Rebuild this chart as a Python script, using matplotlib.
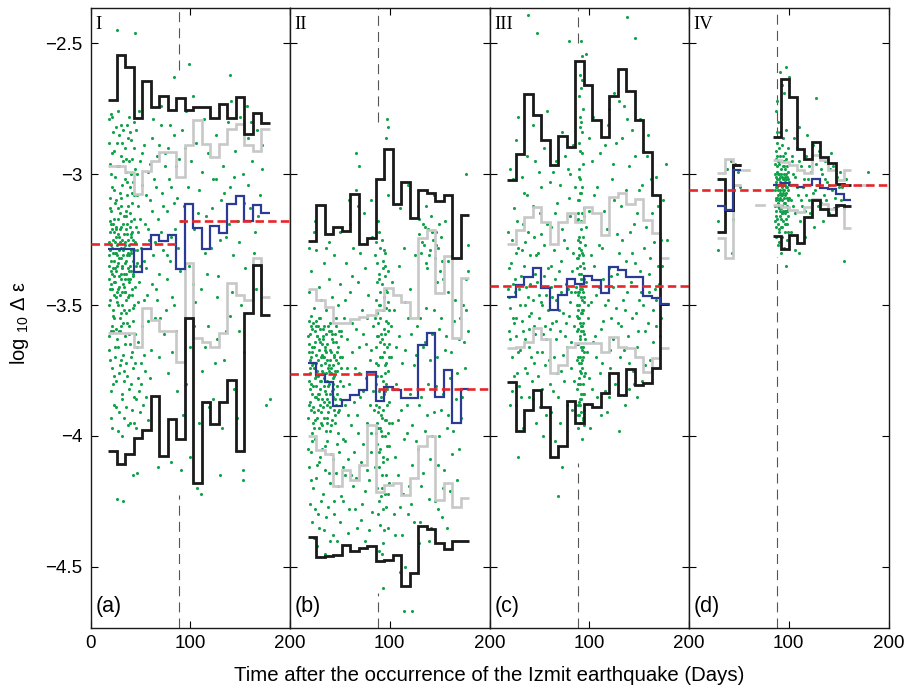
import matplotlib
matplotlib.use("Agg")
import matplotlib.pyplot as plt

plt.rcParams['font.family'] = ['Liberation Sans', 'DejaVu Sans']
plt.rcParams['mathtext.fontset'] = 'custom'
plt.rcParams['mathtext.rm'] = 'Liberation Sans'
plt.rcParams['mathtext.it'] = 'Liberation Sans:italic'

# 8.5-day bins shared by regions I-III (days after the Izmit mainshock)
EDGES = [18, 26.5, 35, 43.5, 52, 60.5, 69, 77.5, 86, 94.5, 103, 111.5,
         120, 128.5, 137, 145.5, 154, 162.5, 171, 179.5]
EDGES_D_EARLY = [28.5, 36.5, 44, 52]
EDGES_D = [84, 92, 100, 108, 115.5, 123.5, 131.5, 139.5, 147, 155, 162.5]
DASH_DAY = 88.4

# region I
black_hi_a = [-2.715, -2.546, -2.59, -2.787, -2.645, -2.743, -2.701, -2.756, -2.709, -2.756,
              -2.743, -2.743, -2.787, -2.73, -2.787, -2.705, -2.848, -2.766, -2.803]
black_lo_a = [-4.056, -4.108, -4.069, -4.009, -3.977, -3.846, -4.076, -3.934, -4.011, -3.551,
              -4.181, -3.871, -3.955, -3.871, -3.786, -4.056, -3.532, -3.345, -3.538]
gray_hi_a = [-2.969, -2.969, -2.99, -3.074, -2.987, -2.95, -2.915, -2.915, -3.01, -2.889,
             -2.794, -2.883, -2.936, -2.883, -2.826, -2.807, -2.889, -2.911, -2.826]
gray_lo_a = [-3.606, -3.606, -3.606, -3.659, -3.513, -3.557, -3.60, -3.60, -3.716, -3.34,
             -3.627, -3.64, -3.66, -3.608, -3.416, -3.462, -3.48, -3.32, -3.468]
blue_a = [-3.287, -3.287, -3.287, -3.373, -3.287, -3.233, -3.255, -3.233, -3.364, -3.115,
          -3.207, -3.284, -3.198, -3.226, -3.115, -3.084, -3.178, -3.118, -3.15]
red_a = [(0, DASH_DAY, -3.267), (DASH_DAY, 200, -3.18)]

# region II
black_hi_b = [-3.255, -3.118, -3.23, -3.201, -3.216, -3.074, -3.268, -3.245, -3.02, -2.902,
              -3.115, -3.029, -3.169, -3.061, -3.071, -3.102, -3.078, -3.322, -3.156]
black_lo_b = [-4.387, -4.461, -4.458, -4.454, -4.416, -4.441, -4.428, -4.42, -4.476, -4.473,
              -4.454, -4.575, -4.522, -4.344, -4.357, -4.41, -4.431, -4.40, -4.40]
gray_hi_b = [-3.439, -3.481, -3.506, -3.57, -3.57, -3.555, -3.545, -3.538, -3.519, -3.434,
             -3.462, -3.487, -3.551, -3.245, -3.214, -3.455, -3.313, -3.627, -3.398]
gray_lo_b = [-4.0, -4.053, -4.069, -4.193, -4.13, -4.168, -4.111, -3.958, -4.215, -4.187,
             -4.181, -4.225, -4.162, -4.04, -4.0, -4.244, -4.181, -4.27, -4.238]
blue_b = [-3.72, -3.767, -3.793, -3.885, -3.863, -3.844, -3.824, -3.754, -3.866, -3.812,
          -3.824, -3.856, -3.856, -3.653, -3.606, -3.85, -3.748, -3.952, -3.822]
red_b = [(0, DASH_DAY, -3.763), (DASH_DAY, 200, -3.821)]

# region III
black_hi_c = [-3.023, -2.921, -2.695, -2.775, -2.87, -2.966, -2.855, -2.896, -2.569, -2.66,
              -2.791, -2.857, -2.702, -2.597, -2.682, -2.791, -2.915, -3.08, -3.496]
black_lo_c = [-3.795, -3.98, -3.901, -3.824, -3.89, -4.079, -4.038, -3.866, -3.952, -3.878,
              -3.89, -3.837, -3.761, -3.844, -3.746, -3.806, -3.797, -3.742, -3.496]
gray_hi_c = [-3.267, -3.214, -3.163, -3.127, -3.182, -3.267, -3.182, -3.15, -3.182, -3.127,
             -3.15, -3.233, -3.087, -3.071, -3.112, -3.093, -3.176, -3.226, -3.322]
gray_lo_c = [-3.665, -3.66, -3.64, -3.589, -3.63, -3.761, -3.729, -3.66, -3.645, -3.645,
             -3.645, -3.68, -3.621, -3.66, -3.665, -3.70, -3.754, -3.703, -3.665]
blue_c = [-3.468, -3.424, -3.392, -3.358, -3.433, -3.517, -3.462, -3.402, -3.418, -3.389,
          -3.405, -3.455, -3.356, -3.366, -3.392, -3.392, -3.466, -3.472, -3.496]
red_c = [(0, 200, -3.427)]

# region IV: a short early burst and the main sequence after day 84
black_hi_d0 = [-3.019, -3.135, -2.966]
black_lo_d0 = [-3.22, -3.135, -2.966]
gray_hi_d0 = [-2.997, -2.94, -3.04]
gray_lo_d0 = [-3.242, -3.322, -3.04]
blue_d0 = [-3.121, -3.135, -2.985]
black_hi_d = [-2.857, -2.635, -2.705, -2.902, -2.94, -2.877, -2.934, -2.959, -3.036, -3.042]
black_lo_d = [-3.237, -3.284, -3.233, -3.263, -3.163, -3.097, -3.131, -3.156, -3.118, -3.121]
gray_hi_d = [-2.944, -2.955, -2.966, -2.985, -2.997, -2.925, -2.944, -2.985, -3.023, -2.985]
gray_lo_d = [-3.118, -3.125, -3.135, -3.144, -3.125, -3.093, -3.112, -3.131, -3.118, -3.207]
blue_d = [-3.04, -3.033, -3.042, -3.048, -3.042, -3.019, -3.051, -3.056, -3.076, -3.097]
gray_single_d = [(52, 60, -2.982), (67.5, 75, -3.118), (171.5, 178.5, -3.04)]
red_d = [(0, DASH_DAY, -3.061), (DASH_DAY, 200, -3.04)]

# stretches of the day-88 marker hidden behind each event cloud (low, high)
gap_a = (-4.225, -2.603)
gap_b = (-4.60, -2.80)
gap_c = (-4.104, -2.50)
gap_d = (-3.316, -2.857)

# individual events (day, log10 strain change)
pts_a = [
    (18.6, -3.31), (19.4, -3.22), (20.3, -3.37), (21.1, -3.28), (21.9, -3.44), (22.8, -3.19), (23.5, -3.33),
    (24.2, -3.26), (25.0, -3.41), (25.7, -3.30), (26.6, -3.35), (27.3, -3.23), (28.1, -3.39), (28.9, -3.29),
    (29.8, -3.46), (30.4, -3.32), (31.2, -3.25), (32.0, -3.36), (32.9, -3.42), (33.6, -3.28), (34.3, -3.34),
    (35.1, -3.21), (36.0, -3.38), (36.8, -3.31), (37.5, -3.47), (38.4, -3.27), (39.2, -3.35), (40.1, -3.40),
    (41.0, -3.24), (42.3, -3.33), (43.5, -3.29), (44.7, -3.43), (19.9, -3.48), (23.0, -3.52), (26.1, -3.45),
    (29.2, -3.55), (31.7, -3.50), (35.6, -3.53), (38.9, -3.46), (42.8, -3.51), (20.8, -3.14), (24.6, -3.11),
    (27.8, -3.17), (30.9, -3.09), (33.3, -3.16), (37.1, -3.12), (40.6, -3.18), (44.1, -3.08),
    (18.2, -3.35), (19.1, -3.18), (19.9, -3.29), (20.7, -3.42), (21.6, -3.21), (22.5, -3.30), (23.3, -3.46),
    (24.0, -3.17), (24.8, -3.36), (25.4, -3.24), (26.3, -3.49), (27.0, -3.31), (27.9, -3.13), (28.7, -3.43),
    (29.4, -3.26), (30.2, -3.38), (31.0, -3.20), (31.8, -3.45), (32.6, -3.31), (33.2, -3.23), (34.1, -3.40),
    (34.9, -3.27), (35.7, -3.48), (36.5, -3.19), (37.2, -3.36), (38.0, -3.25), (38.8, -3.41), (39.7, -3.15),
    (40.5, -3.30), (41.3, -3.44), (42.0, -3.22), (42.9, -3.38), (43.9, -3.17), (45.2, -3.35), (18.7, -3.40),
    (20.0, -3.09), (22.1, -3.54), (23.9, -3.39), (25.9, -3.21), (28.0, -3.50), (30.0, -3.15), (32.2, -3.57),
    (34.5, -3.45), (36.2, -3.08), (38.6, -3.52), (41.7, -3.11), (43.0, -3.56), (45.9, -3.20), (47.0, -3.34),
    (48.8, -3.41),
    (18.5, -3.26), (19.3, -3.44), (20.1, -3.33), (20.9, -3.19), (21.7, -3.38), (22.6, -3.25), (23.4, -3.41),
    (24.3, -3.30), (25.1, -3.20), (25.9, -3.37), (26.8, -3.27), (27.6, -3.44), (28.4, -3.32), (29.2, -3.21),
    (30.1, -3.40), (30.9, -3.28), (31.7, -3.35), (32.5, -3.19), (33.4, -3.38), (34.2, -3.26), (35.0, -3.45),
    (35.9, -3.33), (36.7, -3.23), (37.6, -3.40), (38.4, -3.31), (39.3, -3.20), (40.2, -3.37), (41.1, -3.29),
    (42.0, -3.46), (42.9, -3.25), (18.9, -3.50), (20.6, -3.27), (22.2, -3.36), (23.8, -3.22), (25.5, -3.47),
    (27.1, -3.34), (28.8, -3.24), (30.5, -3.53), (32.1, -3.29), (33.8, -3.43), (35.5, -3.16), (37.2, -3.30),
    (38.9, -3.37), (40.7, -3.23), (42.5, -3.39), (44.4, -3.26), (19.8, -3.13), (26.0, -3.10), (31.0, -3.12),
    (36.0, -3.14), (41.5, -3.07), (24.0, -3.55), (29.0, -3.60), (34.0, -3.52), (39.0, -3.58), (44.0, -3.50),
    (21.0, -3.60), (46.2, -3.29), (47.5, -3.22), (50.0, -3.35),
    (18.9, -2.79), (21.5, -2.92), (22.4, -2.84), (24.9, -3.01), (26.9, -2.88), (28.5, -2.97), (30.1, -2.81),
    (31.9, -3.04), (34.7, -2.90), (35.9, -2.99), (37.8, -2.86), (39.6, -3.05), (41.4, -2.94), (43.2, -2.80),
    (44.9, -2.98), (19.6, -2.96), (23.7, -3.06), (27.1, -2.76), (32.5, -2.95), (38.2, -2.78), (40.9, -3.00),
    (29.5, -3.07), (36.4, -3.03), (21.2, -3.05), (18.3, -2.88), (20.4, -3.00), (22.0, -2.78), (23.4, -2.91),
    (25.3, -2.82), (26.2, -2.97), (28.8, -2.85), (30.6, -2.93), (33.0, -2.83), (34.2, -3.02), (36.7, -2.81),
    (38.9, -2.95), (40.2, -2.87), (42.4, -3.03), (44.0, -2.90), (46.5, -3.00), (20.9, -2.77), (31.4, -2.88),
    (39.1, -2.84), (35.3, -2.94),
    (18.4, -3.62), (19.8, -3.71), (21.6, -3.58), (22.9, -3.80), (24.1, -3.66), (25.5, -3.89), (26.8, -3.63),
    (28.3, -3.76), (29.9, -3.60), (31.3, -3.84), (32.6, -3.69), (34.0, -3.93), (35.4, -3.72), (36.9, -3.57),
    (38.1, -3.82), (39.8, -3.65), (41.2, -3.90), (42.6, -3.74), (44.3, -3.61), (45.6, -3.86), (20.5, -3.93),
    (23.8, -3.77), (27.6, -3.98), (30.7, -3.71), (33.9, -3.79), (37.3, -3.96), (40.4, -3.70), (43.8, -3.95),
    (47.2, -3.78), (49.5, -3.91), (25.2, -3.59), (34.8, -3.62), (46.3, -3.66), (48.7, -3.83), (50.9, -3.72),
    (52.6, -3.88), (55.1, -3.75), (57.4, -3.94), (18.9, -3.67), (20.1, -3.83), (21.3, -3.74), (22.6, -3.60),
    (23.5, -3.88), (24.7, -3.70), (26.0, -3.79), (27.2, -3.66), (28.6, -3.91), (29.5, -3.73), (30.9, -3.58),
    (32.0, -3.86), (33.4, -3.75), (34.6, -3.65), (35.8, -3.89), (37.0, -3.77), (38.5, -3.61), (39.4, -3.95),
    (40.8, -3.80), (42.1, -3.68), (43.3, -3.85), (44.6, -3.72), (45.3, -3.97), (48.0, -3.64), (50.2, -3.80),
    (53.5, -3.69), (56.0, -3.85), (59.2, -3.78), (21.9, -3.97), (31.9, -4.00),
    (46.1, -2.83), (47.9, -3.12), (49.2, -2.95), (50.6, -3.28), (51.8, -3.04), (53.3, -2.89), (54.5, -3.19),
    (55.9, -3.36), (57.2, -2.99), (58.6, -3.25), (59.8, -3.10), (61.3, -2.86), (62.5, -3.31), (63.9, -3.02),
    (65.2, -3.44), (66.4, -2.93), (67.7, -3.17), (69.1, -3.38), (70.3, -2.81), (71.6, -3.07), (72.9, -3.29),
    (74.2, -2.97), (75.5, -3.52), (76.8, -3.14), (78.0, -2.90), (79.4, -3.33), (80.7, -3.05), (82.1, -3.47),
    (83.3, -2.85), (84.6, -3.21), (85.9, -3.60), (87.2, -3.09), (88.5, -2.94), (89.7, -3.37), (47.4, -3.49),
    (52.1, -3.58), (56.7, -3.46), (60.5, -3.67), (64.8, -3.55), (68.3, -3.70), (73.6, -3.61), (77.7, -3.76),
    (81.5, -3.68), (86.4, -3.83), (48.3, -2.76), (63.1, -2.79), (71.0, -2.74), (79.9, -2.81), (58.1, -3.56),
    (66.9, -3.48), (46.8, -3.08), (49.9, -3.17), (51.2, -2.92), (53.8, -3.33), (55.4, -3.08), (57.9, -3.21),
    (60.1, -2.96), (61.9, -3.14), (64.2, -3.26), (65.8, -3.05), (68.8, -2.89), (70.9, -3.22), (73.0, -3.12),
    (75.0, -2.92), (77.1, -3.40), (79.0, -3.02), (81.0, -3.24), (83.9, -3.11), (85.3, -2.97), (87.8, -3.28),
    (62.0, -3.42), (69.7, -3.55), (76.3, -3.31), (84.0, -3.50), (54.1, -3.48),
    (91.3, -2.83), (93.8, -3.12), (96.2, -2.76), (98.7, -3.35), (101.1, -2.95), (103.6, -3.21), (106.0, -2.88),
    (108.4, -3.06), (110.9, -3.44), (113.3, -2.79), (115.8, -3.16), (118.2, -2.92), (120.7, -3.28),
    (123.1, -3.02), (125.6, -2.85), (128.0, -3.39), (130.5, -3.10), (132.9, -2.97), (135.4, -3.24),
    (137.8, -2.80), (140.3, -3.05), (142.7, -3.31), (145.2, -2.91), (147.6, -3.18), (150.1, -2.78),
    (152.5, -3.00), (155.0, -3.36), (157.4, -2.86), (159.9, -3.13), (162.3, -2.95), (164.8, -3.22),
    (167.2, -2.83), (169.7, -3.08), (172.1, -2.98), (95.0, -3.57), (100.2, -3.66), (105.1, -3.49),
    (112.0, -3.75), (117.3, -3.58), (122.6, -3.86), (127.2, -3.63), (133.8, -3.71), (139.5, -3.54),
    (144.0, -3.82), (149.3, -3.60), (154.2, -3.68), (92.4, -3.92), (99.3, -4.08), (108.9, -3.95),
    (119.0, -3.89), (131.7, -3.97), (146.8, -3.93), (114.5, -3.30), (126.4, -3.47), (141.2, -2.72),
    (156.6, -2.74), (102.7, -2.70), (90.8, -3.18), (94.7, -2.90), (97.5, -3.05), (103.0, -3.42),
    (107.3, -3.15), (111.8, -2.99), (116.4, -3.38), (121.5, -3.13), (126.0, -3.02), (129.4, -3.25),
    (134.1, -3.07), (138.5, -3.19), (143.8, -3.01), (148.7, -3.26), (153.4, -3.11), (158.2, -3.04),
    (163.5, -3.30), (168.0, -3.16), (171.5, -2.89), (160.8, -2.80), (95.8, -3.80), (104.0, -3.58),
    (115.0, -3.66), (125.0, -3.72), (136.2, -3.60), (142.0, -3.45), (151.0, -3.50), (166.0, -3.44),
    (27.0, -2.45), (45.0, -2.46), (99.0, -2.58), (140.0, -2.62), (84.0, -2.63), (176.0, -3.88), (180.0, -3.86),
    (33.0, -4.25), (27.0, -4.24), (106.5, -4.20), (111.0, -4.22), (130.0, -4.15), (153.0, -4.17),
    (152.5, -4.13), (91.0, -4.13), (81.0, -4.10), (43.0, -4.15), (47.0, -4.14), (68.0, -4.12),
]

pts_b = [
    (18.5, -3.62), (19.7, -3.71), (20.6, -3.58), (21.4, -3.80), (22.3, -3.66), (23.1, -3.89), (24.0, -3.74),
    (24.8, -3.60), (25.6, -3.85), (26.5, -3.69), (27.3, -3.93), (28.2, -3.77), (29.0, -3.63), (29.9, -3.82),
    (30.7, -3.70), (31.6, -3.96), (32.4, -3.75), (33.3, -3.59), (34.1, -3.87), (35.0, -3.72), (35.8, -3.98),
    (36.7, -3.79), (37.5, -3.65), (38.4, -3.91), (39.2, -3.73), (40.1, -3.84), (41.0, -3.68), (42.2, -3.94),
    (43.5, -3.78), (44.8, -3.61), (46.0, -3.88), (47.3, -3.75), (48.6, -3.99), (49.9, -3.70), (19.2, -3.88),
    (22.8, -3.95), (26.0, -3.56), (30.2, -3.64), (33.8, -3.81), (37.0, -3.86), (40.6, -3.57), (44.1, -3.90),
    (20.1, -3.76), (27.8, -3.84), (34.6, -3.67), (41.5, -3.76),
    (18.9, -3.68), (19.6, -3.82), (20.4, -3.61), (21.1, -3.90), (21.9, -3.73), (22.7, -3.57), (23.5, -3.81),
    (24.3, -3.66), (25.1, -3.94), (25.9, -3.77), (26.7, -3.62), (27.6, -3.86), (28.4, -3.71), (29.3, -3.97),
    (30.1, -3.59), (30.9, -3.79), (31.8, -3.65), (32.6, -3.89), (33.5, -3.70), (34.3, -3.58), (35.2, -3.83),
    (36.0, -3.68), (36.9, -3.93), (37.7, -3.74), (38.6, -3.60), (39.4, -3.87), (40.3, -3.71), (41.2, -3.96),
    (42.0, -3.63), (42.9, -3.80), (43.8, -3.69), (44.7, -3.92), (45.6, -3.75), (46.5, -3.58), (47.4, -3.84),
    (48.3, -3.66), (49.2, -3.90), (50.1, -3.79), (51.0, -3.60), (19.3, -3.56), (22.0, -3.99), (26.2, -3.72),
    (29.7, -3.88), (33.1, -3.63), (36.4, -3.76), (39.8, -3.98), (43.2, -3.73), (46.9, -3.68), (24.6, -3.85),
    (31.4, -3.91), (38.1, -3.81), (45.1, -3.86), (28.0, -3.58), (35.6, -3.61), (41.7, -3.83),
    (18.7, -3.79), (19.4, -3.65), (20.2, -3.87), (21.0, -3.70), (21.7, -3.59), (22.5, -3.84), (23.3, -3.72),
    (24.1, -3.91), (24.9, -3.64), (25.7, -3.81), (26.5, -3.58), (27.2, -3.75), (28.0, -3.90), (28.8, -3.67),
    (29.6, -3.79), (30.4, -3.55), (31.2, -3.73), (32.0, -3.86), (32.9, -3.62), (33.7, -3.78), (34.5, -3.93),
    (35.4, -3.66), (36.2, -3.84), (37.1, -3.71), (37.9, -3.58), (38.8, -3.80), (39.6, -3.67), (40.5, -3.89),
    (41.4, -3.74), (42.3, -3.61), (43.2, -3.85), (44.1, -3.70), (45.0, -3.95), (46.0, -3.64), (47.0, -3.81),
    (48.0, -3.72), (49.0, -3.60), (50.1, -3.86), (18.4, -3.93), (20.8, -3.54), (23.9, -3.97), (27.0, -3.62),
    (30.8, -3.95), (34.0, -3.70), (37.4, -3.95), (40.9, -3.60), (44.6, -3.77), (48.5, -3.91), (25.3, -3.78),
    (31.6, -3.69), (36.6, -3.88), (42.7, -3.82), (22.0, -3.68), (29.2, -3.84), (39.0, -3.75), (46.4, -3.71),
    (19.9, -3.74), (33.3, -3.76), (43.6, -3.64), (51.5, -3.74),
    (18.8, -3.45), (21.0, -3.37), (23.6, -3.51), (25.9, -3.29), (28.7, -3.43), (31.1, -3.48), (33.9, -3.34),
    (36.2, -3.52), (38.8, -3.40), (41.9, -3.47), (44.4, -3.31), (47.8, -3.50), (50.5, -3.42), (24.4, -3.22),
    (19.5, -3.28), (29.4, -3.55), (39.5, -3.26), (45.7, -3.55),
    (18.3, -4.05), (20.9, -4.17), (22.5, -4.02), (24.6, -4.28), (26.8, -4.11), (28.9, -4.35), (30.4, -4.08),
    (32.8, -4.22), (34.9, -4.04), (36.5, -4.31), (38.6, -4.14), (40.3, -4.40), (42.7, -4.09), (44.5, -4.25),
    (46.9, -4.03), (48.1, -4.19), (50.2, -4.33), (52.7, -4.12), (27.4, -4.42), (35.5, -4.45), (43.1, -4.38),
    (21.8, -4.33), (19.0, -4.12), (20.3, -4.26), (21.5, -4.06), (23.0, -4.20), (24.1, -4.39), (25.3, -4.01),
    (26.3, -4.16), (27.9, -4.30), (29.5, -4.10), (31.0, -4.25), (32.2, -4.05), (33.6, -4.36), (35.2, -4.13),
    (37.1, -4.02), (38.0, -4.27), (39.7, -4.18), (41.5, -4.07), (43.8, -4.30), (45.9, -4.14), (47.5, -4.40),
    (49.4, -4.06), (51.6, -4.23), (54.8, -4.15), (58.9, -4.28), (62.7, -4.19), (67.2, -4.35), (72.6, -4.26),
    (77.0, -4.13), (82.2, -4.29), (75.6, -4.40),
    (51.4, -3.62), (52.9, -3.81), (54.3, -3.55), (55.6, -4.02), (57.0, -3.74), (58.4, -3.92), (59.7, -3.45),
    (61.1, -4.15), (62.5, -3.68), (63.8, -3.87), (65.2, -4.28), (66.6, -3.59), (67.9, -3.99), (69.3, -3.76),
    (70.7, -4.10), (72.0, -3.52), (73.4, -3.83), (74.8, -4.21), (76.1, -3.65), (77.5, -3.95), (78.9, -4.36),
    (80.2, -3.71), (81.6, -4.06), (83.0, -3.58), (84.3, -3.90), (53.6, -4.25), (57.8, -4.37), (64.4, -4.06),
    (71.3, -4.32), (79.5, -4.17), (56.2, -3.34), (63.1, -3.28), (68.5, -3.41), (75.2, -3.36), (82.4, -3.24),
    (60.3, -3.19), (73.9, -3.15), (66.0, -3.06), (58.8, -3.10), (52.2, -3.70), (54.9, -3.88), (56.8, -3.63),
    (59.0, -3.80), (60.7, -3.96), (62.0, -3.57), (64.9, -3.74), (67.1, -3.92), (68.8, -3.66), (70.1, -3.85),
    (72.7, -3.61), (75.8, -3.78), (77.0, -3.55), (79.9, -3.88), (81.1, -3.67), (83.6, -3.83), (55.2, -3.48),
    (61.8, -3.39), (70.0, -3.30), (78.3, -3.46), (53.0, -4.01), (58.0, -4.09), (65.8, -4.16), (73.0, -4.03),
    (80.8, -3.99), (84.8, -4.12),
    (85.6, -3.31), (86.3, -3.48), (86.9, -3.62), (87.5, -3.77), (88.2, -3.91), (88.8, -4.06), (89.4, -3.40),
    (90.0, -3.55), (90.6, -3.70), (91.2, -3.85), (91.8, -4.00), (92.4, -4.15), (93.0, -4.28), (93.6, -3.36),
    (94.2, -3.65), (94.8, -3.94), (95.4, -4.22), (96.0, -3.51), (96.6, -3.80), (97.2, -4.09), (97.8, -4.35),
    (98.4, -3.60), (99.0, -3.87), (99.6, -4.18), (87.1, -4.20), (89.9, -4.34), (92.7, -3.25), (95.1, -3.73),
    (90.4, -3.97), (97.5, -3.45), (88.0, -3.18), (93.3, -4.41), (86.0, -3.99), (98.9, -4.04),
    (85.3, -3.55), (85.9, -3.72), (86.5, -3.88), (87.0, -4.03), (87.6, -3.41), (88.1, -3.57), (88.6, -3.73),
    (89.1, -3.89), (89.6, -4.12), (90.1, -3.28), (90.7, -3.45), (91.2, -3.61), (91.7, -3.77), (92.2, -3.93),
    (92.8, -4.08), (93.3, -3.52), (93.8, -3.68), (94.3, -3.84), (94.9, -4.00), (95.4, -3.39), (95.9, -3.56),
    (96.4, -3.72), (96.9, -3.88), (97.4, -4.04), (98.0, -3.49), (98.5, -3.75), (99.0, -3.95), (99.5, -3.65),
    (86.6, -3.26), (89.3, -3.22), (92.9, -3.33), (95.7, -3.30), (98.7, -3.37), (87.8, -4.30), (90.8, -4.23),
    (94.0, -4.36), (96.6, -4.27), (91.9, -4.45), (88.9, -4.44), (90.3, -3.64), (93.5, -3.79), (89.0, -3.50),
    (91.0, -3.92), (94.6, -3.59), (97.0, -3.66), (92.0, -3.70), (95.0, -3.83), (88.4, -3.97), (96.2, -3.94),
    (85.8, -3.66), (86.4, -3.80), (87.0, -3.53), (87.6, -3.95), (88.2, -3.62), (88.8, -3.38), (89.4, -3.83),
    (90.0, -4.05), (90.6, -3.50), (91.2, -3.98), (91.8, -3.42), (92.4, -3.63), (93.0, -3.90), (93.6, -4.10),
    (94.2, -3.47), (94.8, -3.76), (95.4, -3.61), (96.0, -4.15), (96.6, -3.44), (97.2, -3.82), (97.8, -3.57),
    (98.4, -3.99), (99.0, -3.70), (99.6, -3.52), (87.3, -3.34), (89.7, -4.25), (92.6, -4.20), (95.2, -3.35),
    (98.2, -4.22), (93.9, -3.29),
    (101.2, -3.58), (103.0, -3.82), (104.8, -4.08), (106.6, -3.66), (108.4, -3.94), (110.2, -4.27),
    (112.0, -3.72), (113.8, -4.01), (115.6, -3.49), (117.4, -3.88), (119.2, -4.19), (121.0, -3.61),
    (122.8, -3.96), (124.6, -4.33), (126.4, -3.69), (128.2, -4.05), (130.0, -3.55), (131.8, -3.85),
    (133.6, -4.14), (135.4, -3.64), (137.2, -3.92), (139.0, -4.24), (140.8, -3.71), (142.6, -4.00),
    (144.4, -3.52), (146.2, -3.81), (148.0, -4.11), (149.8, -3.59), (151.6, -3.90), (153.4, -4.20),
    (155.2, -3.67), (157.0, -3.97), (158.8, -3.45), (160.6, -3.78), (162.4, -4.07), (164.2, -3.56),
    (166.0, -3.86), (167.8, -4.17), (169.6, -3.63), (171.4, -3.93), (173.2, -3.50), (175.0, -3.74),
    (176.8, -3.40), (178.5, -3.60), (105.7, -4.38), (118.3, -4.30), (129.1, -4.41), (141.7, -4.35),
    (152.5, -4.31), (102.1, -3.41), (109.3, -3.35), (114.7, -3.28), (120.1, -3.44), (125.5, -3.31),
    (100.8, -3.70), (102.6, -3.95), (104.3, -3.52), (106.1, -3.80), (107.9, -4.15), (109.7, -3.62),
    (111.5, -3.90), (113.3, -4.22), (115.1, -3.67), (116.9, -3.99), (118.7, -3.55), (120.5, -3.84),
    (122.3, -4.11), (124.1, -3.73), (125.9, -4.02), (127.7, -3.58), (129.5, -3.88), (131.3, -4.19),
    (133.1, -3.66), (134.9, -3.98), (136.7, -3.51), (138.5, -3.80), (140.3, -4.09), (142.1, -3.61),
    (143.9, -3.91), (145.7, -4.25), (147.5, -3.70), (149.3, -4.00), (151.1, -3.55), (152.9, -3.84),
    (154.7, -4.13), (156.5, -3.62), (158.3, -3.92), (160.1, -4.21), (161.9, -3.68), (163.7, -3.98),
    (165.5, -3.48), (167.3, -3.76), (169.1, -4.05), (170.9, -3.55), (172.7, -3.85), (174.5, -3.64),
    (176.3, -3.52), (103.9, -4.30), (112.6, -4.38), (121.6, -4.26), (130.5, -4.33), (139.5, -4.40),
    (148.6, -4.28), (157.7, -4.35),
    (129.7, -3.23), (131.4, -3.30), (133.1, -3.19), (134.8, -3.27), (136.5, -3.34), (138.2, -3.21),
    (139.9, -3.29), (141.6, -3.16), (143.3, -3.25), (145.0, -3.32), (146.7, -3.22), (148.4, -3.28),
    (150.1, -3.37), (151.8, -3.24), (153.5, -3.40), (155.2, -3.18), (157.9, -3.33), (136.0, -3.12),
    (144.6, -3.08), (128.9, -3.17), (132.4, -3.26), (135.6, -3.20), (139.2, -3.31), (142.8, -3.22),
    (146.0, -3.27), (149.2, -3.19), (152.6, -3.33), (137.6, -3.36), (147.5, -3.41),
    (25.0, -3.18), (36.0, -3.28), (50.0, -3.22), (68.0, -3.12), (81.0, -3.10), (94.5, -3.02), (98.5, -3.08),
    (110.0, -3.13), (118.5, -3.04), (176.0, -3.00), (178.5, -3.27), (178.8, -3.37), (69.0, -2.97),
    (66.0, -2.92), (98.0, -2.82), (96.0, -2.86), (97.0, -2.79), (114.0, -4.67), (122.0, -4.67),
    (93.0, -4.58), (110.0, -4.52), (115.0, -4.50),
]

pts_c = [
    (18.8, -3.22), (20.2, -3.51), (21.5, -3.34), (22.9, -3.70), (24.3, -3.13), (25.6, -3.45), (27.0, -3.62),
    (28.4, -3.28), (29.7, -3.81), (31.1, -3.39), (32.5, -3.56), (33.8, -3.19), (35.2, -3.74), (36.6, -3.43),
    (37.9, -3.08), (39.3, -3.66), (40.7, -3.31), (42.0, -3.53), (43.4, -3.86), (44.8, -3.24), (46.1, -3.61),
    (47.5, -3.41), (48.9, -3.77), (50.2, -3.15), (51.6, -3.49), (53.0, -3.68), (54.3, -3.27), (55.7, -3.58),
    (57.1, -3.92), (58.4, -3.36), (59.8, -3.71), (61.2, -3.20), (62.5, -3.47), (63.9, -3.83), (65.3, -3.40),
    (66.6, -3.63), (68.0, -3.11), (69.4, -3.52), (70.7, -3.95), (72.1, -3.33), (73.5, -3.69), (74.8, -3.25),
    (76.2, -3.57), (77.6, -3.88), (78.9, -3.44), (80.3, -3.16), (81.7, -3.64), (83.0, -3.37), (84.4, -3.79),
    (85.8, -3.05), (19.6, -3.60), (23.6, -3.42), (26.3, -3.30), (30.4, -3.50), (34.5, -3.35), (38.6, -3.47),
    (41.4, -3.70), (45.5, -3.38), (49.6, -3.55), (52.3, -3.82), (56.4, -3.46), (60.5, -3.59), (64.6, -3.29),
    (67.3, -3.76), (71.4, -3.45), (75.5, -3.62), (79.6, -3.54), (82.3, -3.90), (21.0, -3.88), (27.7, -3.76),
    (33.1, -3.97), (39.9, -3.85), (47.0, -3.95), (53.7, -4.00), (61.8, -3.91), (66.0, -4.02), (18.4, -3.44),
    (25.0, -3.57), (36.0, -3.63), (44.0, -3.48),
    (19.2, -3.36), (20.7, -3.63), (22.2, -3.25), (23.2, -3.55), (24.9, -3.77), (26.0, -3.40), (27.4, -3.18),
    (28.9, -3.68), (30.0, -3.44), (31.6, -3.85), (32.9, -3.29), (34.0, -3.60), (35.8, -3.50), (37.3, -3.76),
    (38.2, -3.22), (39.7, -3.54), (41.1, -3.42), (42.6, -3.79), (43.9, -3.12), (45.1, -3.58), (46.6, -3.31),
    (47.9, -3.68), (49.2, -3.46), (50.8, -3.89), (52.0, -3.23), (53.4, -3.61), (54.9, -3.39), (56.0, -3.73),
    (57.6, -3.19), (58.9, -3.52), (60.2, -3.80), (61.6, -3.35), (63.0, -3.57), (64.2, -3.70), (65.8, -3.15),
    (67.0, -3.48), (68.6, -3.85), (69.8, -3.37), (71.0, -3.60), (72.5, -3.21), (73.9, -3.53), (75.1, -3.79),
    (76.8, -3.42), (78.0, -3.66), (79.2, -3.09), (80.9, -3.49), (82.0, -3.74), (83.6, -3.30), (84.9, -3.58),
    (86.2, -3.45), (24.0, -3.02), (34.9, -3.07), (45.9, -2.95), (51.2, -3.05), (63.4, -2.99), (70.2, -3.04),
    (76.0, -2.93), (81.2, -3.00), (20.0, -3.47), (23.0, -3.83), (26.6, -3.55), (30.7, -3.67), (35.5, -3.26),
    (40.0, -3.59), (44.5, -3.72), (48.5, -3.30), (52.8, -3.50), (57.0, -3.63), (62.0, -3.43), (66.8, -3.56),
    (71.8, -3.75), (77.2, -3.28), (81.8, -3.45),
    (20.8, -2.98), (26.9, -2.87), (32.2, -3.01), (37.2, -2.93), (43.8, -2.81), (49.3, -2.99), (55.0, -2.90),
    (60.9, -3.03), (66.3, -2.95), (72.8, -2.84), (78.2, -2.98), (84.0, -2.89), (29.0, -2.78), (57.8, -2.76),
    (87.3, -3.18), (87.9, -3.32), (88.5, -3.45), (89.1, -3.59), (89.7, -3.72), (90.3, -3.86), (90.9, -3.26),
    (91.5, -3.40), (92.1, -3.53), (92.7, -3.67), (93.3, -3.80), (93.9, -3.94), (94.5, -3.36), (95.1, -3.49),
    (95.7, -3.63), (88.2, -3.65), (88.8, -3.80), (89.4, -3.38), (90.0, -3.50), (90.6, -3.62), (91.2, -3.75),
    (91.8, -3.91), (92.4, -3.30), (93.0, -3.44), (93.6, -3.57), (94.2, -3.70), (94.8, -3.84), (89.0, -3.10),
    (91.0, -3.02), (93.4, -2.96), (90.2, -2.88), (92.0, -2.80), (94.0, -2.75), (91.5, -2.67), (90.5, -2.62),
    (88.7, -3.97), (92.5, -4.01), (89.6, -3.24), (94.7, -3.16), (87.6, -3.54), (91.4, -3.47), (93.8, -3.60),
    (90.8, -3.35), (95.4, -3.76), (88.4, -3.88),
    (87.1, -3.43), (87.7, -3.71), (88.3, -3.25), (88.9, -3.52), (89.5, -3.78), (90.1, -3.31), (90.7, -3.57),
    (91.3, -3.84), (91.9, -3.21), (92.5, -3.48), (93.1, -3.74), (93.7, -3.34), (94.3, -3.61), (94.9, -3.90),
    (95.5, -3.27), (87.8, -3.60), (88.6, -3.92), (89.2, -3.17), (89.8, -3.45), (90.4, -3.70), (91.0, -3.95),
    (91.6, -3.58), (92.2, -3.86), (92.8, -3.15), (93.4, -3.40), (94.0, -3.52), (94.6, -3.77), (95.2, -3.13),
    (90.0, -3.10), (92.0, -3.07), (89.3, -2.98), (93.2, -3.05), (91.1, -2.91), (90.9, -2.78), (92.3, -2.84),
    (89.9, -2.70), (92.8, -2.64), (91.7, -3.66), (89.6, -3.87), (93.5, -3.93),
    (87.4, -3.50), (88.0, -3.36), (88.6, -3.70), (89.2, -3.55), (89.8, -3.28), (90.4, -3.80), (91.0, -3.44),
    (91.6, -3.72), (92.2, -3.38), (92.8, -3.58), (93.4, -3.84), (94.0, -3.24), (94.6, -3.47), (95.2, -3.68),
    (87.9, -3.82), (88.5, -3.15), (89.1, -3.65), (89.7, -3.92), (90.3, -3.42), (90.9, -3.63), (91.5, -3.18),
    (92.1, -3.76), (92.7, -3.52), (93.3, -3.31), (93.9, -3.66), (94.5, -3.96), (95.1, -3.40), (90.6, -3.88),
    (91.2, -3.07), (89.4, -3.01), (92.6, -2.92), (90.7, -2.82), (88.9, -3.32), (93.1, -3.53), (91.8, -3.29),
    (90.2, -3.55), (94.2, -3.45), (89.0, -3.46), (92.9, -3.71), (91.3, -3.60),
    (97.0, -3.20), (98.6, -3.55), (100.2, -3.78), (101.8, -3.31), (103.4, -3.64), (105.0, -3.08),
    (106.6, -3.46), (108.2, -3.85), (109.8, -3.27), (111.4, -3.59), (113.0, -3.72), (114.6, -3.14),
    (116.2, -3.50), (117.8, -3.91), (119.4, -3.36), (121.0, -3.67), (122.6, -3.02), (124.2, -3.43),
    (125.8, -3.80), (127.4, -3.23), (129.0, -3.57), (130.6, -3.70), (132.2, -3.12), (133.8, -3.48),
    (135.4, -3.88), (137.0, -3.33), (138.6, -3.62), (140.2, -2.97), (141.8, -3.41), (143.4, -3.75),
    (145.0, -3.19), (146.6, -3.53), (148.2, -3.66), (149.8, -3.06), (151.4, -3.45), (153.0, -3.79),
    (154.6, -3.28), (156.2, -3.60), (157.8, -2.93), (159.4, -3.38), (161.0, -3.71), (162.6, -3.15),
    (164.2, -3.52), (165.8, -3.44), (167.4, -3.01), (169.0, -3.35), (170.6, -3.62), (172.2, -3.25),
    (174.0, -3.10), (176.5, -2.96), (99.4, -2.86), (104.2, -2.78), (110.6, -2.92), (118.6, -2.81),
    (126.6, -2.88), (134.6, -2.74), (142.6, -2.83), (150.6, -2.79), (158.6, -2.85), (125.0, -2.69),
    (130.0, -2.72), (112.0, -3.92), (120.2, -3.85), (101.0, -3.97), (139.4, -3.82), (147.4, -3.85),
    (96.4, -3.41), (98.0, -3.68), (99.8, -3.14), (101.3, -3.49), (102.9, -3.82), (104.5, -3.35),
    (106.1, -3.62), (107.7, -3.05), (109.3, -3.43), (110.9, -3.76), (112.5, -3.28), (114.1, -3.56),
    (115.7, -3.83), (117.3, -3.21), (118.9, -3.48), (120.5, -3.74), (122.1, -3.39), (123.7, -3.63),
    (125.3, -3.10), (126.9, -3.51), (128.5, -3.84), (130.1, -3.30), (131.7, -3.58), (133.3, -3.25),
    (134.9, -3.67), (136.5, -3.06), (138.1, -3.45), (139.7, -3.72), (141.3, -3.22), (142.9, -3.55),
    (144.5, -3.80), (146.1, -3.34), (147.7, -3.15), (149.3, -3.60), (150.9, -3.37), (152.5, -3.04),
    (154.1, -3.50), (155.7, -3.73), (157.3, -3.20), (158.9, -3.57), (160.5, -3.32), (162.1, -3.02),
    (163.7, -3.64), (165.3, -3.26), (166.9, -3.48), (168.5, -3.12), (170.1, -3.42), (171.8, -3.55),
    (173.4, -3.35), (178.0, -3.25), (103.0, -2.95), (116.0, -2.89), (124.0, -2.96), (133.0, -2.86),
    (146.0, -2.93), (154.0, -2.91), (138.0, -2.79), (120.0, -2.75), (99.0, -3.50), (107.0, -3.70),
    (113.6, -3.40), (121.6, -3.55), (128.0, -3.38), (136.0, -3.52), (143.0, -3.30), (150.0, -3.48),
    (160.0, -3.45), (167.0, -3.58),
    (38.8, -2.39), (137.7, -2.40), (48.0, -2.46), (79.6, -2.49), (145.5, -2.48), (92.0, -2.49), (96.5, -2.54),
    (93.0, -2.55), (29.0, -4.08), (73.0, -4.12), (69.0, -4.23), (130.0, -3.98), (27.0, -3.88),
]

pts_d = [
    (86.2, -2.96), (86.8, -3.03), (87.4, -3.10), (88.0, -3.17), (88.6, -2.99), (89.2, -3.06), (89.8, -3.13),
    (90.4, -3.21), (91.0, -2.93), (91.6, -3.01), (92.2, -3.08), (92.8, -3.15), (93.4, -3.24), (94.0, -2.97),
    (94.6, -3.04), (95.2, -3.11), (95.8, -3.19), (96.4, -2.92), (97.0, -3.00), (97.6, -3.07), (98.2, -3.14),
    (98.8, -3.22), (99.4, -3.02), (100.0, -3.09), (86.5, -3.12), (87.1, -2.91), (87.7, -3.20), (88.3, -3.05),
    (88.9, -3.27), (89.5, -2.95), (90.1, -3.00), (90.7, -3.10), (91.3, -3.16), (91.9, -2.98), (92.5, -3.04),
    (93.1, -2.89), (93.7, -3.12), (94.3, -3.18), (94.9, -2.95), (95.5, -3.06), (96.1, -3.14), (96.7, -3.03),
    (97.3, -3.17), (97.9, -2.97), (98.5, -3.05), (99.1, -3.10), (87.9, -2.88), (90.9, -2.84), (89.0, -2.80),
    (86.9, -2.76), (88.1, -2.72), (90.3, -3.26), (92.0, -3.30), (95.0, -3.28), (98.0, -3.25), (93.8, -2.86),
    (96.9, -2.83), (99.7, -2.90), (87.5, -3.01), (91.5, -3.07),
    (86.4, -3.06), (87.0, -3.14), (87.6, -2.94), (88.2, -3.02), (88.8, -3.11), (89.4, -3.19), (90.0, -3.04),
    (90.6, -2.96), (91.2, -3.12), (91.8, -3.20), (92.4, -3.00), (93.0, -3.08), (93.6, -3.15), (94.2, -2.93),
    (94.8, -3.02), (95.4, -3.09), (96.0, -3.22), (96.6, -2.98), (97.2, -3.05), (97.8, -3.12), (98.4, -3.01),
    (99.0, -3.16), (99.6, -3.06), (86.7, -3.18), (87.3, -3.24), (88.5, -2.93), (89.7, -3.00), (90.9, -3.06),
    (92.1, -3.13), (93.3, -3.01), (94.5, -3.07), (95.7, -3.00), (96.3, -3.08), (97.5, -2.94), (98.7, -3.19),
    (90.2, -2.90), (93.0, -3.20), (96.0, -3.15), (88.0, -3.09), (91.0, -3.03),
    (86.3, -3.00), (86.9, -3.09), (87.5, -3.16), (88.1, -2.97), (88.7, -3.04), (89.3, -3.12), (89.9, -3.22),
    (90.5, -3.02), (91.1, -3.09), (91.7, -2.95), (92.3, -3.17), (92.9, -3.05), (93.5, -3.10), (94.1, -3.02),
    (94.7, -3.14), (95.3, -2.97), (95.9, -3.04), (96.5, -3.11), (97.1, -3.19), (97.7, -3.02), (98.3, -3.09),
    (98.9, -2.99), (99.5, -3.13), (100.2, -3.03), (87.0, -3.05), (89.0, -3.08), (91.4, -3.14), (93.9, -3.06),
    (96.2, -3.01), (98.6, -3.14),
    (101.5, -3.04), (103.1, -2.95), (104.7, -3.12), (106.3, -3.01), (107.9, -2.90), (109.5, -3.08),
    (111.1, -3.18), (112.7, -2.97), (114.3, -3.05), (115.9, -3.14), (117.5, -2.93), (119.1, -3.02),
    (120.7, -3.10), (122.3, -2.99), (123.9, -3.07), (125.5, -3.20), (127.1, -2.96), (128.7, -3.04),
    (130.3, -2.91), (131.9, -3.11), (133.5, -3.00), (135.1, -3.08), (136.7, -2.95), (138.3, -3.03),
    (139.9, -3.15), (141.5, -2.98), (143.1, -3.06), (144.7, -2.97), (146.3, -3.09), (147.9, -3.01),
    (149.5, -3.12), (151.1, -2.99), (153.0, -3.05), (155.0, -3.13), (157.0, -3.02), (102.3, -3.22),
    (105.5, -2.86), (110.3, -2.82), (116.7, -3.24), (118.5, -2.85), (124.7, -2.89), (134.3, -3.18),
    (142.3, -2.92), (152.1, -3.10), (102.0, -3.10), (104.0, -3.00), (106.0, -3.15), (108.5, -3.05),
    (110.5, -2.95), (113.0, -3.12), (115.0, -3.02), (117.0, -3.08), (121.0, -3.15), (126.0, -3.06),
    (129.5, -3.12), (132.5, -2.98), (137.5, -3.10), (140.5, -3.04), (145.5, -3.13), (150.0, -3.05),
    (102.8, -2.93), (111.8, -3.10), (119.9, -2.97), (135.9, -3.02),
    (91.5, -2.61), (97.5, -2.59), (99.8, -2.63), (93.0, -2.66), (95.5, -2.69), (88.5, -2.84), (127.6, -2.71),
    (179.0, -2.99), (155.7, -3.33), (97.5, -3.35), (106.0, -3.29), (110.0, -3.30),
    (29.4, -3.29), (43.0, -3.30), (29.4, -3.18), (41.8, -2.95), (49.0, -2.99), (50.7, -3.05), (44.0, -3.17),
    (30.5, -3.02), (38.0, -2.98), (46.0, -2.96),
]

GREEN = '#12a24a'
BLACK = '#1a1a1a'
GRAY = '#c8c8c8'
BLUE = '#2b3a94'
RED = '#e8262a'

panels = [
    dict(roman='I', tag='(a)', pts=pts_a, red=red_a, gap=gap_a,
         steps=[(EDGES, black_hi_a, black_lo_a, gray_hi_a, gray_lo_a, blue_a)], singles=[]),
    dict(roman='II', tag='(b)', pts=pts_b, red=red_b, gap=gap_b,
         steps=[(EDGES, black_hi_b, black_lo_b, gray_hi_b, gray_lo_b, blue_b)], singles=[]),
    dict(roman='III', tag='(c)', pts=pts_c, red=red_c, gap=gap_c,
         steps=[(EDGES, black_hi_c, black_lo_c, gray_hi_c, gray_lo_c, blue_c)], singles=[]),
    dict(roman='IV', tag='(d)', pts=pts_d, red=red_d, gap=gap_d,
         steps=[(EDGES_D_EARLY, black_hi_d0, black_lo_d0, gray_hi_d0, gray_lo_d0, blue_d0),
                (EDGES_D, black_hi_d, black_lo_d, gray_hi_d, gray_lo_d, blue_d)],
         singles=gray_single_d),
]

fig = plt.figure(figsize=(9.07, 6.90), dpi=100)
left, bottom, width, height = 90.5 / 907, 61.7 / 690, 199.5 / 907, 620.0 / 690
YLIM = (-4.735, -2.366)

for i, p in enumerate(panels):
    ax = fig.add_axes([left + i * width, bottom, width, height])
    ax.set_xlim(0, 200)
    ax.set_ylim(*YLIM)

    lo, hi = p['gap']
    for y0, y1 in ((YLIM[0], lo), (hi, YLIM[1])):
        ax.plot([DASH_DAY, DASH_DAY], [y0, y1], color='#555555', lw=0.8,
                dashes=(9, 5.5), zorder=1)

    xs = [q[0] for q in p['pts']]
    ys = [q[1] for q in p['pts']]
    ax.scatter(xs, ys, s=5, color=GREEN, marker='o', linewidths=0, zorder=2)

    for edges, bhi, blo, ghi, glo, blu in p['steps']:
        for vals in (ghi, glo):
            ax.stairs(vals, edges, baseline=None, color=GRAY, lw=1.9, zorder=3)
        for vals in (bhi, blo):
            ax.stairs(vals, edges, baseline=None, color=BLACK, lw=2.0, zorder=4)
        ax.stairs(blu, edges, baseline=None, color=BLUE, lw=1.6, zorder=5)
    for x0, x1, v in p['singles']:
        ax.plot([x0, x1], [v, v], color=GRAY, lw=1.9, zorder=3)

    for x0, x1, v in p['red']:
        ax.plot([x0, x1], [v, v], color=RED, lw=1.9, dashes=(3.2, 1.6), zorder=6)

    ax.text(0.022, 0.988, p['roman'], transform=ax.transAxes, ha='left', va='top',
            fontsize=13.5, family=['Liberation Serif', 'DejaVu Serif'])
    ax.text(0.025, 0.018, p['tag'], transform=ax.transAxes, ha='left', va='bottom',
            fontsize=15.5)

    ax.set_yticks([-4.5, -4, -3.5, -3, -2.5])
    ax.set_xticks([0, 100, 200])
    ax.tick_params(direction='in', length=5, width=0.8, top=True, right=True,
                   labelsize=13.5)
    ax.tick_params(axis='x', pad=4.5)
    ax.tick_params(axis='y', pad=6)
    if i == 0:
        ax.set_yticklabels(['\u22124.5', '\u22124', '\u22123.5', '\u22123', '\u22122.5'])
        ax.set_xticklabels(['0', '100', '200'])
    else:
        ax.set_yticklabels([])
        ax.set_xticklabels(['', '100', '200'])
    for sp in ax.spines.values():
        sp.set_linewidth(1.0)
        sp.set_color(BLACK)

fig.text(left + 2 * width, 0.013, 'Time after the occurrence of the Izmit earthquake (Days)',
         ha='center', va='baseline', fontsize=14.7)
fig.text(0.022, 0.532, 'log $_{\\mathregular{10}}$ \u0394 \u03b5',
         rotation=90, ha='center', va='center', fontsize=14.5)

fig.savefig('out.png', dpi=100)
